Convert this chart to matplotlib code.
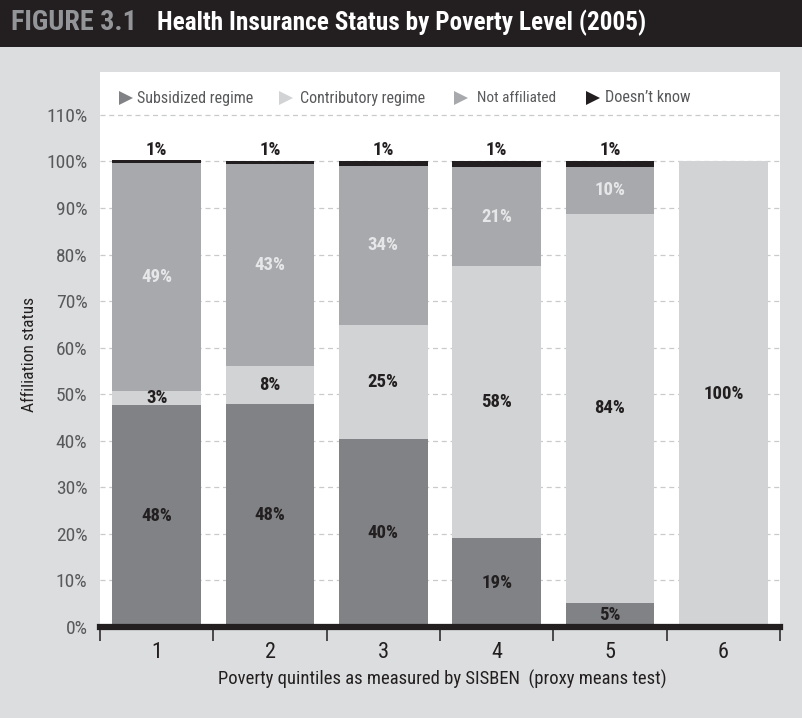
import matplotlib
matplotlib.use("Agg")
import matplotlib.pyplot as plt
from matplotlib import font_manager
from matplotlib.patches import Rectangle
from matplotlib.lines import Line2D

# ---- data -------------------------------------------------------------
quintiles = ["1", "2", "3", "4", "5", "6"]
subsidized = [47.6, 47.9, 40.3, 19.1, 5.2, 0.0]
contributory = [3.0, 8.1, 24.6, 58.4, 83.6, 100.0]
not_affiliated = [49.0, 43.4, 34.2, 21.3, 10.0, 0.0]
doesnt_know = [0.6, 0.6, 0.9, 1.2, 1.2, 0.0]
series_names = ["Subsidized regime", "Contributory regime", "Not affiliated", "Doesn\u2019t know"]
y_ticks = [0, 10, 20, 30, 40, 50, 60, 70, 80, 90, 100, 110]

# ---- styling ----------------------------------------------------------
DARK = "#231f20"
C_SUB = "#808285"
C_CON = "#d1d3d4"
C_NA = "#a7a9ac"
C_DK = DARK
BG = "#dcddde"
TXT = "#58595b"


def pick_font():
    """Prefer a narrow sans face; fall back to condensed DejaVu, then Liberation Sans."""
    for name in ["Liberation Sans Narrow", "Roboto Condensed", "Nimbus Sans Narrow",
                 "DejaVu Sans Condensed"]:
        try:
            font_manager.findfont(font_manager.FontProperties(family=name),
                                  fallback_to_default=False)
            return name, "normal"
        except Exception:
            pass
    path = font_manager.findfont(font_manager.FontProperties(family="DejaVu Sans",
                                                             stretch="condensed"))
    if "Condensed" in path:
        return "DejaVu Sans", "condensed"
    return "Liberation Sans", "normal"


FAMILY, STRETCH = pick_font()
plt.rcParams["font.family"] = [FAMILY, "DejaVu Sans"]
plt.rcParams["font.stretch"] = STRETCH

W, H = 802, 718
fig = plt.figure(figsize=(W / 100, H / 100), dpi=100, facecolor=BG)
renderer = fig.canvas.get_renderer()


def fx(px):
    return px / W


def fy(py):
    return 1 - py / H


def fitted_text(x, y, s, width_px, max_size, **kw):
    """Place a figure text, shrinking its size so it spans about width_px pixels."""
    t = fig.text(x, y, s, fontsize=max_size, **kw)
    w = t.get_window_extent(renderer=renderer).width
    if w > width_px:
        t.set_fontsize(max_size * width_px / w)
    return t


# title band
fig.patches.append(Rectangle((0, fy(47)), 1, 47 / H, transform=fig.transFigure,
                             facecolor=DARK, edgecolor="none", zorder=0))
fitted_text(fx(11), fy(23), "FIGURE 3.1", 126, 22, color="#939598",
            fontweight="black", va="center", ha="left")
fitted_text(fx(157), fy(23), "Health Insurance Status by Poverty Level (2005)", 488, 20,
            color="white", fontweight="bold", va="center", ha="left")

# plotting area
ax = fig.add_axes([fx(100), 1 - 627 / H, 680 / W, (627 - 72) / H])
ax.set_facecolor("white")
ax.set_xlim(0.5, 6.5)
ax.set_ylim(0, 119.2)
for s in ax.spines.values():
    s.set_visible(False)

for t in y_ticks[1:]:
    ax.axhline(t, color="#c9cacc", lw=0.9, dashes=(4, 3), zorder=1)

x = list(range(1, len(quintiles) + 1))
bw = 0.785
b1 = subsidized
b2 = [a + b for a, b in zip(b1, contributory)]
b3 = [a + b for a, b in zip(b2, not_affiliated)]
ax.bar(x, subsidized, bw, color=C_SUB, zorder=2)
ax.bar(x, contributory, bw, bottom=b1, color=C_CON, zorder=2)
ax.bar(x, not_affiliated, bw, bottom=b2, color=C_NA, zorder=2)
ax.bar(x, doesnt_know, bw, bottom=b3, color=C_DK, zorder=2)

lab_kw = dict(ha="center", va="center", fontsize=13.5, fontweight="bold", zorder=3)
for i, xi in enumerate(x):
    if subsidized[i] > 0:
        ax.text(xi, subsidized[i] / 2, f"{subsidized[i]:.0f}%", color=DARK, **lab_kw)
    if contributory[i] > 0:
        ax.text(xi, b1[i] + contributory[i] / 2, f"{contributory[i]:.0f}%", color=DARK, **lab_kw)
    if not_affiliated[i] > 0:
        ax.text(xi, b2[i] + not_affiliated[i] / 2, f"{not_affiliated[i]:.0f}%",
                color="#e6e7e8", **lab_kw)
    if doesnt_know[i] > 0:
        ax.text(xi, 102.5, f"{doesnt_know[i]:.0f}%", color=DARK, **lab_kw)

# baseline and axis ticks
ax.axhline(0, color=DARK, lw=4.5, zorder=4, clip_on=False)
ax.set_xticks(x)
ax.set_xticklabels(quintiles)
ax.set_xticks([v + 0.5 for v in [0] + x], minor=True)
ax.tick_params(axis="x", which="major", length=0, pad=11, labelsize=16, labelcolor=DARK)
ax.tick_params(axis="x", which="minor", length=10, width=1.1, color=DARK, direction="out")
ax.set_yticks(y_ticks)
ax.set_yticklabels([f"{t}%" for t in y_ticks])
ax.tick_params(axis="y", length=0, pad=9, labelsize=14, labelcolor=TXT)

fitted_text(fx(442), fy(679), "Poverty quintiles as measured by SISBEN  (proxy means test)",
            450, 16, ha="center", va="center", color=DARK)
fig.text(fx(30), fy(354), "Affiliation status", rotation=90, ha="center", va="center",
         fontsize=12.5, color=DARK)

# legend row
leg_colors = [C_SUB, C_CON, C_NA, C_DK]
tri_x = [126, 286, 461, 593]
text_x = [137, 300, 477, 605]
text_w = [115, 125, 78, 85]
for name, col, tx, lx, lw_ in zip(series_names, leg_colors, tri_x, text_x, text_w):
    fig.add_artist(Line2D([fx(tx)], [fy(98)], marker=">", markersize=10.5, color=col,
                          markeredgewidth=0, linestyle="none", transform=fig.transFigure))
    fitted_text(fx(lx), fy(98), name, lw_ + 1, 15, ha="left", va="center", color=TXT)

fig.savefig("out.png", dpi=100, facecolor=BG)
